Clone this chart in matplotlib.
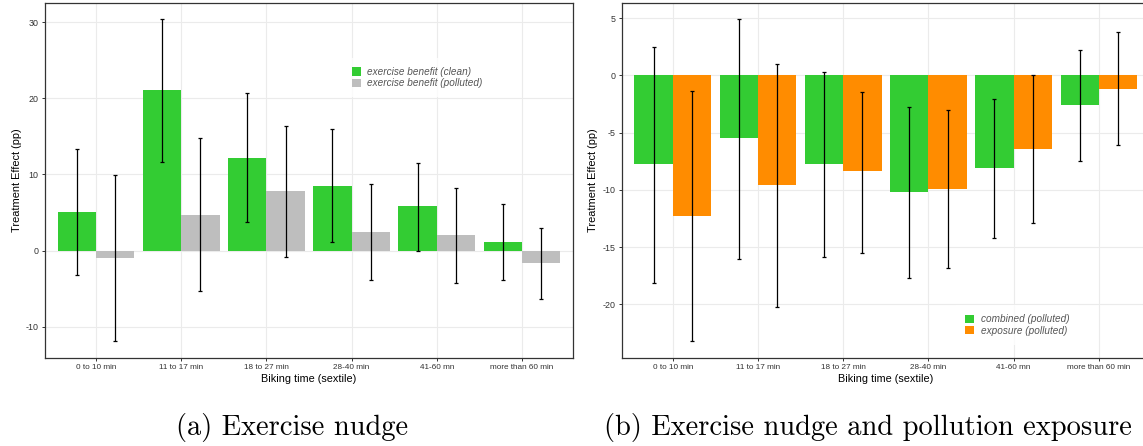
import matplotlib
matplotlib.use("Agg")
import matplotlib.pyplot as plt
import numpy as np

categories = ["0 to 10 min", "11 to 17 min", "18 to 27 min", "28-40 min", "41-60 mn", "more than 60 min"]

# Panel (a)
clean = [5.1, 21.05, 12.2, 8.5, 5.85, 1.1]
clean_lo = [-3.2, 11.6, 3.7, 1.1, 0.0, -3.85]
clean_hi = [13.4, 30.45, 20.7, 15.9, 11.45, 6.1]
poll = [-1.0, 4.65, 7.8, 2.5, 2.0, -1.6]
poll_lo = [-11.9, -5.25, -0.9, -3.85, -4.2, -6.3]
poll_hi = [9.9, 14.8, 16.4, 8.7, 8.15, 2.9]

# Panel (b)
comb = [-7.77, -5.44, -7.77, -10.16, -8.06, -2.57]
comb_lo = [-18.1, -16.0, -15.86, -17.69, -14.22, -7.5]
comb_hi = [2.47, 4.94, 0.31, -2.79, -2.09, 2.18]
expo = [-12.25, -9.6, -8.38, -9.92, -6.43, -1.17]
expo_lo = [-23.2, -20.24, -15.53, -16.84, -12.92, -6.11]
expo_hi = [-1.37, 0.96, -1.48, -3.05, 0.0, 3.75]

GREEN = "#33CC33"
GREY = "#BEBEBE"
ORANGE = "#FF8C00"

plt.rcParams["font.family"] = ["Liberation Sans", "DejaVu Sans"]
plt.rcParams["axes.unicode_minus"] = False

W, H = 1143, 446
fig = plt.figure(figsize=(W / 100, H / 100), dpi=100)

def px_axes(l, r, t, b):
    return fig.add_axes([l / W, 1 - b / H, (r - l) / W, (b - t) / H])

def style(ax, yticks, ylim):
    x = np.arange(1, len(categories) + 1)
    ax.set_xlim(0.4, 6.6)
    ax.set_ylim(*ylim)
    ax.set_xticks(x)
    ax.set_xticklabels(categories, fontsize=5.9, color="#333333")
    ax.set_yticks(yticks)
    ax.set_yticklabels([str(v) for v in yticks], fontsize=6.4, color="#333333")
    ax.grid(True, color="#EBEBEB", linewidth=0.8, zorder=0)
    ax.set_axisbelow(True)
    for s in ax.spines.values():
        s.set_color("#333333")
        s.set_linewidth(0.9)
    ax.tick_params(axis="both", length=2.5, width=0.7, color="#333333", pad=2)
    ax.set_xlabel("Biking time (sextile)", fontsize=7.8, labelpad=2)
    ax.set_ylabel("Treatment Effect (pp)", fontsize=7.9, labelpad=3)

def draw(ax, a, alo, ahi, ca, la, b, blo, bhi, cb, lb):
    x = np.arange(1, len(categories) + 1)
    w = 0.45
    ax.bar(x - w / 2, a, width=w, color=ca, label=la, zorder=2, linewidth=0)
    ax.bar(x + w / 2, b, width=w, color=cb, label=lb, zorder=2, linewidth=0)
    a = np.array(a); b = np.array(b)
    ax.errorbar(x - w / 2, a, yerr=[a - np.array(alo), np.array(ahi) - a], fmt="none",
                ecolor="black", elinewidth=0.9, capsize=1.6, capthick=0.9, zorder=3)
    ax.errorbar(x + w / 2, b, yerr=[b - np.array(blo), np.array(bhi) - b], fmt="none",
                ecolor="black", elinewidth=0.9, capsize=1.6, capthick=0.9, zorder=3)

def legend(ax, cx, cy):
    leg = ax.legend(loc="center", bbox_to_anchor=(cx, cy), frameon=True, fancybox=False,
                    prop={"size": 7.2, "style": "italic"}, handlelength=0.9, handleheight=0.9,
                    handletextpad=0.65, labelspacing=0.12, borderpad=0.9)
    leg.get_frame().set_facecolor("white")
    leg.get_frame().set_edgecolor("none")
    for t in leg.get_texts():
        t.set_color("#555555")

ax1 = px_axes(45, 573, 3, 358)
style(ax1, [-10, 0, 10, 20, 30], (-14.1, 32.5))
draw(ax1, clean, clean_lo, clean_hi, GREEN, "exercise benefit (clean)",
     poll, poll_lo, poll_hi, GREY, "exercise benefit (polluted)")
legend(ax1, 0.705, 0.79)

ax2 = px_axes(621.7, 1150, 3, 358)
style(ax2, [-20, -15, -10, -5, 0, 5], (-24.67, 6.31))
draw(ax2, comb, comb_lo, comb_hi, GREEN, "combined (polluted)",
     expo, expo_lo, expo_hi, ORANGE, "exposure (polluted)")
legend(ax2, 0.749, 0.093)

fig.text(292 / W, 1 - 427 / H, "(a) Exercise nudge", family="cmr10", fontsize=20.5,
         ha="center", va="center")
fig.text(868 / W, 1 - 427 / H, "(b) Exercise nudge and pollution exposure", family="cmr10",
         fontsize=20.5, ha="center", va="center")

fig.savefig("out.png", dpi=100)
